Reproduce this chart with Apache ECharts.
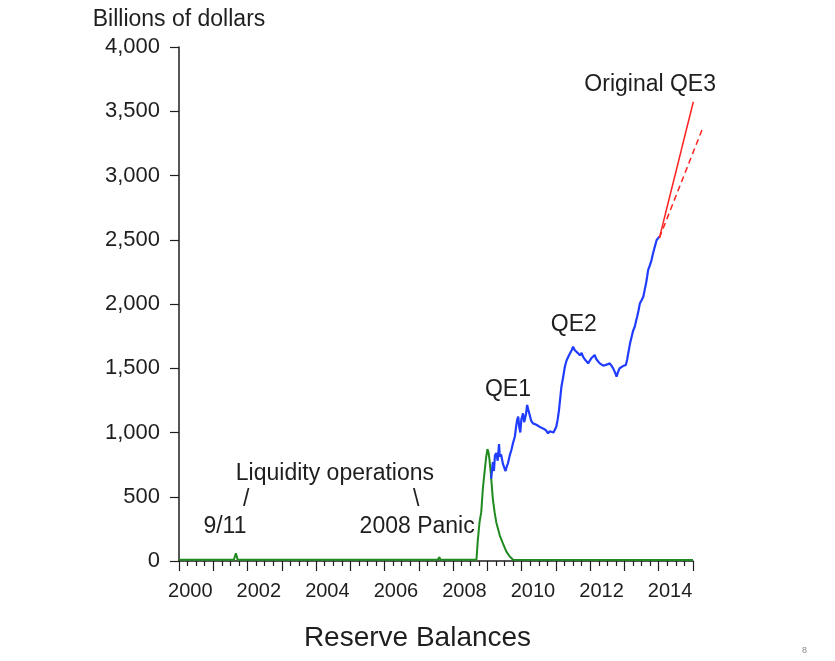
<!DOCTYPE html>
<html>
<head>
<meta charset="utf-8">
<script src="https://cdn.jsdelivr.net/npm/echarts@6/dist/echarts.min.js"></script>
<style>
html,body{margin:0;padding:0;background:#fff;}
#chart{width:835px;height:661px;}
</style>
</head>
<body>
<div id="chart"></div>
<script>
// ---- data (year as decimal, billions of dollars) ----
var liquidityOps = [
  [2000.00, 9],[2001.60, 9],[2001.66, 60],[2001.68, 40],[2001.71, 9],
  [2007.55, 9],[2007.60, 30],[2007.63, 9],[2008.68, 9],
  [2008.72, 160],[2008.77, 300],[2008.82, 380],[2008.87, 570],[2008.92, 700],
  [2008.96, 800],[2009.00, 870],[2009.03, 850],[2009.06, 790],[2009.10, 680],
  [2009.16, 480],[2009.21, 380],[2009.26, 300],[2009.36, 200],[2009.45, 140],
  [2009.55, 75],[2009.65, 35],[2009.75, 10],[2015.00, 8]
];
var reserveBalances = [
  [2009.11, 640],[2009.14, 720],[2009.16, 770],[2009.19, 700],[2009.22, 820],
  [2009.26, 840],[2009.30, 780],[2009.34, 910],[2009.36, 812],[2009.40, 830],
  [2009.45, 760],[2009.50, 720],[2009.53, 700],[2009.57, 740],[2009.60, 760],
  [2009.65, 820],[2009.70, 864],[2009.75, 920],[2009.80, 967],[2009.84, 1050],
  [2009.87, 1100],[2009.90, 1123],[2009.93, 1040],[2009.96, 1000],[2009.99, 1100],
  [2010.04, 1149],[2010.07, 1080],[2010.09, 1097],[2010.13, 1150],[2010.16, 1214],
  [2010.20, 1170],[2010.23, 1140],[2010.28, 1090],[2010.33, 1071],[2010.38, 1080],
  [2010.43, 1060],[2010.48, 1058],[2010.55, 1040],[2010.62, 1032],[2010.70, 1020],
  [2010.77, 994],[2010.82, 1010],[2010.87, 1006],[2010.93, 1000],[2011.01, 1045],
  [2011.05, 1100],[2011.09, 1175],[2011.13, 1280],[2011.16, 1356],[2011.21, 1430],
  [2011.26, 1512],[2011.31, 1560],[2011.36, 1590],[2011.42, 1620],[2011.46, 1640],
  [2011.50, 1668],[2011.55, 1640],[2011.60, 1630],[2011.65, 1616],[2011.70, 1600],
  [2011.75, 1620],[2011.79, 1590],[2011.84, 1570],[2011.89, 1564],[2011.94, 1538],
  [2011.99, 1560],[2012.04, 1580],[2012.08, 1590],[2012.13, 1603],[2012.18, 1570],
  [2012.23, 1560],[2012.28, 1538],[2012.33, 1545],[2012.38, 1520],[2012.43, 1512],
  [2012.50, 1530],[2012.57, 1538],[2012.62, 1520],[2012.67, 1499],[2012.72, 1470],
  [2012.77, 1434],[2012.81, 1470],[2012.86, 1500],[2012.91, 1512],[2012.98, 1520],
  [2013.04, 1525],[2013.08, 1570],[2013.11, 1616],[2013.16, 1690],[2013.21, 1746],
  [2013.25, 1790],[2013.30, 1823],[2013.34, 1870],[2013.37, 1901],[2013.41, 1950],
  [2013.45, 2005],[2013.50, 2030],[2013.55, 2057],[2013.59, 2110],[2013.63, 2161],
  [2013.66, 2210],[2013.69, 2264],[2013.74, 2300],[2013.79, 2342],[2013.83, 2390],
  [2013.86, 2420],[2013.90, 2460],[2013.94, 2498],[2014.02, 2524]
];
var qe3Original = [[2014.02, 2515],[2015.01, 3574]];
var qe3Alt = [[2014.02, 2515],[2015.28, 3367]];
var yearLabels = [2000, 2002, 2004, 2006, 2008, 2010, 2012, 2014];
var annotations = [
  ['Liquidity operations', 2004.55, 677],
  ['/', 2001.96, 475],
  ['9/11', 2001.34, 265],
  ['\\', 2006.92, 475],
  ['2008 Panic', 2006.95, 265],
  ['QE1', 2009.60, 1331],
  ['QE2', 2011.52, 1837],
  ['Original QE3', 2013.75, 3704]
];

var FONT = "'Liberation Sans', Arial, sans-serif";
var TXT = '#1e1e1e';
// main plot spans 2000..2015 over 514 px; a second, wider (transparent) grid with
// the same scale lets the QE3 projections run past the end of the axis.
var X_MIN = 2000, X_MAX = 2015, X_MAX_EXT = 2015.4;
var LEFT = 179, PLOT_W = 514;
var PX_PER_YEAR = PLOT_W / (X_MAX - X_MIN);
var extRight = 835 - (LEFT + PX_PER_YEAR * (X_MAX_EXT - X_MIN));

var chart = echarts.init(document.getElementById('chart'), null, {renderer: 'canvas'});
chart.setOption({
  animation: false,
  backgroundColor: '#fff',
  textStyle: {fontFamily: FONT},
  title: [
    {text: 'Reserve Balances', left: 'center', top: 619,
     textStyle: {fontSize: 28, fontWeight: 'normal', color: TXT, fontFamily: FONT}},
    {text: '8', left: 797, top: 641,
     textStyle: {fontSize: 9, fontWeight: 'normal', color: '#888', fontFamily: FONT}}
  ],
  grid: [
    {left: LEFT, right: 835 - LEFT - PLOT_W, top: 47, bottom: 100},
    {left: LEFT, right: extRight, top: 47, bottom: 100}
  ],
  xAxis: [{
    type: 'value', gridIndex: 0, min: X_MIN, max: X_MAX, interval: 1,
    axisLine: {show: true, onZero: false, lineStyle: {color: TXT, width: 1.5}},
    axisTick: {show: true, length: 10, lineStyle: {color: TXT, width: 1.2}},
    minorTick: {show: true, splitNumber: 4, length: 5, lineStyle: {color: TXT, width: 1.2}},
    splitLine: {show: false},
    axisLabel: {
      customValues: yearLabels.map(function (y) { return y + 0.33; }),
      formatter: function (v) { return String(Math.floor(v)); },
      fontSize: 20, color: TXT, margin: 20, fontFamily: FONT
    }
  }, {
    type: 'value', gridIndex: 1, min: X_MIN, max: X_MAX_EXT, show: false
  }],
  yAxis: [{
    type: 'value', gridIndex: 0, min: 0, max: 4000, interval: 500,
    name: 'Billions of dollars', nameLocation: 'end', nameGap: 16,
    nameTextStyle: {fontSize: 23, color: TXT, fontFamily: FONT},
    axisLine: {show: true, lineStyle: {color: TXT, width: 1.5}},
    axisTick: {show: true, length: 9, lineStyle: {color: TXT, width: 1.2}},
    splitLine: {show: false},
    axisLabel: {
      formatter: function (v) { return v.toLocaleString('en-US'); },
      fontSize: 22, color: TXT, margin: 19, fontFamily: FONT
    }
  }, {
    type: 'value', gridIndex: 1, min: 0, max: 4000, show: false
  }],
  series: [
    {type: 'line', data: liquidityOps, showSymbol: false,
     lineStyle: {color: '#1f8a1f', width: 2}, z: 3},
    {type: 'line', data: reserveBalances, showSymbol: false,
     lineStyle: {color: '#1f3cff', width: 2.2}, z: 3},
    {type: 'line', xAxisIndex: 1, yAxisIndex: 1, data: qe3Original, showSymbol: false,
     lineStyle: {color: '#ff2020', width: 1.5}, z: 4},
    {type: 'line', xAxisIndex: 1, yAxisIndex: 1, data: qe3Alt, showSymbol: false,
     lineStyle: {color: '#ff2020', width: 1.5, type: [6, 4]}, z: 4},
    {type: 'scatter', symbolSize: 0, clip: false, silent: true, z: 5,
     itemStyle: {opacity: 1},
     data: annotations.map(function (a) { return {name: a[0], value: [a[1], a[2]]}; }),
     label: {show: true, position: 'inside', formatter: '{b}', opacity: 1,
             fontSize: 23, color: TXT, fontFamily: FONT}}
  ]
});
</script>
</body>
</html>
